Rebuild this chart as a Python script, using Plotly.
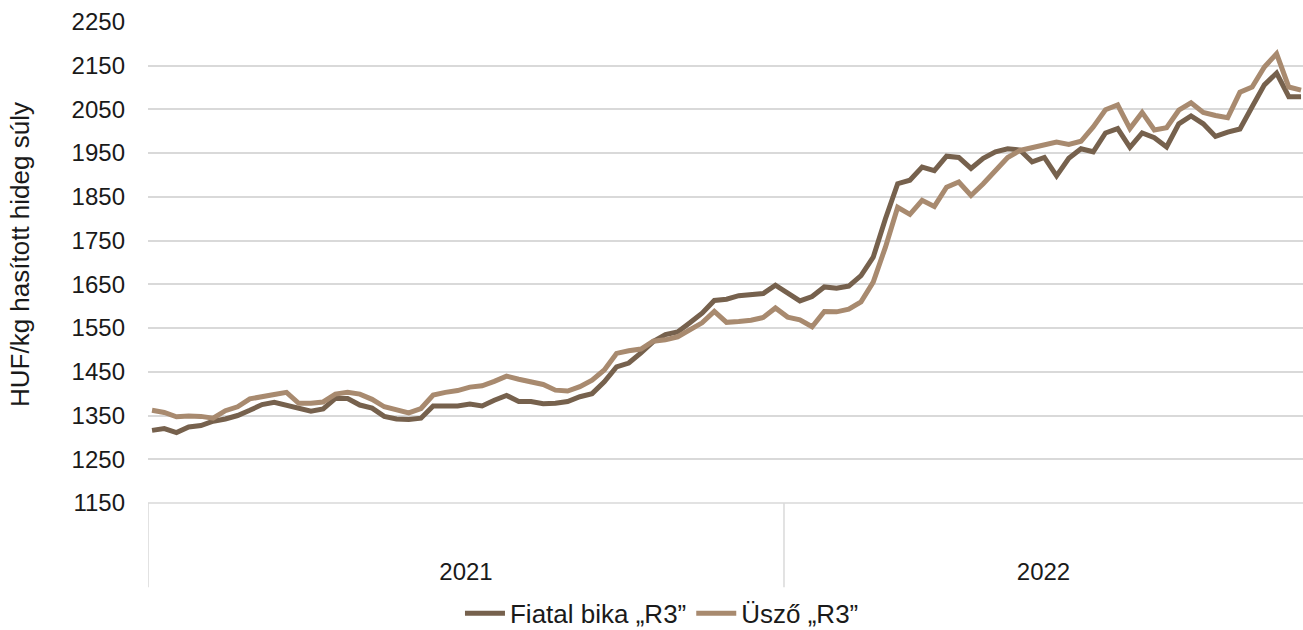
import plotly.graph_objects as go

# Weekly prices, HUF/kg cold carcass weight; 2021 weeks 1-52, 2022 weeks 1-43
weeks_2021 = list(range(1, 53))
weeks_2022 = list(range(1, 44))

fiatal_bika = [
    1316, 1320, 1311, 1324, 1327, 1337, 1342, 1350, 1362, 1375,
    1380, 1373, 1366, 1360, 1365, 1389, 1389, 1374, 1367, 1348,
    1342, 1341, 1344, 1372, 1372, 1372, 1376, 1372, 1385, 1396,
    1382, 1382, 1377, 1378, 1382, 1393, 1400, 1427, 1461, 1470,
    1493, 1519, 1535, 1541, 1562, 1584, 1613, 1616, 1624, 1627,
    1629, 1648,
    1630, 1612, 1622, 1644, 1641, 1646, 1670, 1712, 1800, 1880,
    1888, 1918, 1910, 1943, 1940, 1915, 1938, 1953, 1960, 1957,
    1930, 1940, 1898, 1938, 1960, 1953, 1996, 2006, 1963, 1996,
    1985, 1964, 2017, 2035, 2017, 1988, 1998, 2005, 2056, 2106,
    2133, 2079, 2079,
]

uszo = [
    1362, 1357, 1347, 1349, 1348, 1344, 1361, 1370, 1388, 1394,
    1398, 1403, 1378, 1378, 1381, 1399, 1403, 1399, 1387, 1370,
    1362, 1356, 1366, 1397, 1403, 1407, 1415, 1418, 1428, 1440,
    1433, 1428, 1421, 1408, 1406, 1416, 1431, 1454, 1492, 1498,
    1502, 1520, 1523, 1530, 1547, 1562, 1588, 1563, 1565, 1568,
    1574, 1596,
    1575, 1569, 1553, 1588, 1587, 1593, 1610, 1655, 1735, 1826,
    1810, 1842, 1828, 1872, 1884, 1853, 1880, 1910, 1940, 1956,
    1962, 1968, 1975, 1970, 1977, 2010, 2049, 2060, 2006, 2043,
    2003, 2008, 2048, 2065, 2043, 2036, 2031, 2089, 2101, 2147,
    2177, 2101, 2094,
]

years = ["2021", "2022"]
series_names = ["Fiatal bika \u201eR3\u201d", "Üsző \u201eR3\u201d"]
y_ticks = list(range(1150, 2251, 100))

n21, n22 = len(weeks_2021), len(weeks_2022)
x = list(range(n21 + n22))
week_labels = [f"2021/{w}" for w in weeks_2021] + [f"2022/{w}" for w in weeks_2022]

DARK = "#76614d"
LIGHT = "#a88a6f"
FONT = "Liberation Sans, Arial, sans-serif"
TXT = "#1a1a1a"

fig = go.Figure()
fig.add_trace(go.Scatter(x=x, y=fiatal_bika, mode="lines", name=series_names[0],
                         customdata=week_labels,
                         line=dict(color=DARK, width=5)))
fig.add_trace(go.Scatter(x=x, y=uszo, mode="lines", name=series_names[1],
                         customdata=week_labels,
                         line=dict(color=LIGHT, width=5)))

x_left, x_right = -0.33, x[-1] + 0.16
boundary = n21 - 0.3
year_centers = [(x_left + boundary) / 2, (boundary + x_right) / 2]

fig.update_layout(
    width=1303, height=630,
    margin=dict(l=148, r=0, t=21, b=127, autoexpand=False),
    paper_bgcolor="white", plot_bgcolor="white",
    font=dict(family=FONT, size=24, color=TXT),
    showlegend=True,
    legend=dict(orientation="h", x=0.445, xanchor="center", y=-0.229, yanchor="middle",
                font=dict(size=26), itemwidth=40, tracegroupgap=0),
    xaxis=dict(range=[x_left, x_right], showgrid=False, zeroline=False,
               tickmode="array", tickvals=year_centers, ticktext=years,
               ticks="", ticklabelstandoff=52, showline=False, automargin=False),
    yaxis=dict(range=[1150, 2252], tickmode="array", tickvals=y_ticks,
               showgrid=True, gridcolor="#d9d9d9", gridwidth=1.5,
               zeroline=False, showline=False, ticks="",
               ticklabelstandoff=22, automargin=False),
)

# axis line and category divider lines
fig.add_shape(type="line", xref="x", yref="paper", x0=x_left, x1=x_right, y0=0, y1=0,
              line=dict(color="#d9d9d9", width=1.5))
for xv in [x_left, boundary]:
    fig.add_shape(type="line", xref="x", yref="paper", x0=xv, x1=xv, y0=0, y1=-0.175,
                  line=dict(color="#d9d9d9", width=1.5))

fig.add_annotation(text="HUF/kg hasított hideg súly", xref="paper", yref="paper",
                   x=(20 - 148) / 1155, y=(503 - 255) / 482, textangle=-90,
                   showarrow=False, font=dict(size=26, family=FONT, color=TXT),
                   xanchor="center", yanchor="middle")

fig.write_html("out.html", config={"displayModeBar": False},
               post_script="document.body.style.margin='0px';")
